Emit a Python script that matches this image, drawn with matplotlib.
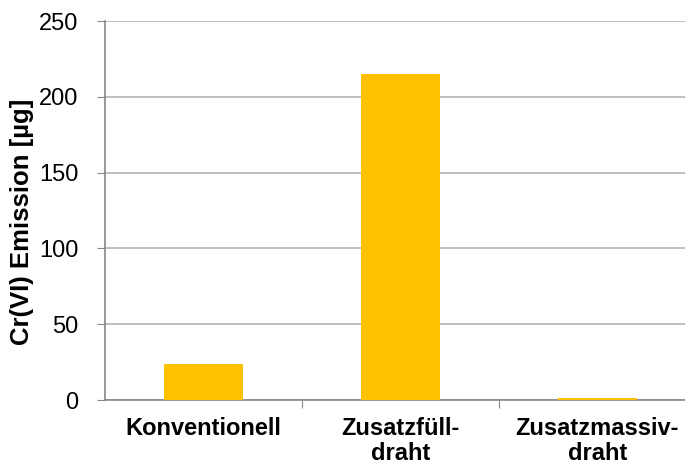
import matplotlib
matplotlib.use("Agg")
import matplotlib.pyplot as plt

categories = ["Konventionell", "Zusatzfüll-\ndraht", "Zusatzmassiv-\ndraht"]
values = [23.5, 215, 1.0]
yticks = [0, 50, 100, 150, 200, 250]

plt.rcParams['font.family'] = ['Liberation Sans', 'DejaVu Sans']

fig = plt.figure(figsize=(6.85, 4.65), dpi=100)
W, H = 685, 465
ax = fig.add_axes([105 / W, 65 / H, 591 / W, 379 / H])

x = list(range(len(categories)))
ax.bar(x, values, width=0.4, color="#FFC000", zorder=3)
ax.set_xlim(-0.5, 2.5)
ax.set_ylim(0, 250)
ax.set_yticks(yticks)
ax.set_yticklabels([str(v) for v in yticks], fontsize=17)
ax.yaxis.grid(True, color="#b4b4b4", linewidth=1.2, zorder=0)
ax.set_axisbelow(True)

ax.set_xticks([0.5, 1.5], minor=False)
ax.set_xticklabels([])
ax.tick_params(axis='x', which='major', length=6, color="#888888", direction='out')
ax.set_xticks(x, minor=True)
ax.set_xticklabels(categories, minor=True, fontsize=17, fontweight='bold', linespacing=1.12)
ax.tick_params(axis='x', which='minor', length=0, pad=12)
ax.tick_params(axis='y', length=6, color="#888888", pad=13)

for s in ['top', 'right']:
    ax.spines[s].set_visible(False)
for s in ['left', 'bottom']:
    ax.spines[s].set_color("#888888")
    ax.spines[s].set_linewidth(1.2)

ax.set_ylabel("Cr(VI) Emission [µg]", fontsize=18.5, fontweight='bold', labelpad=4)
ax.yaxis.label.set_y(0.47)

fig.savefig("out.png", dpi=100)
